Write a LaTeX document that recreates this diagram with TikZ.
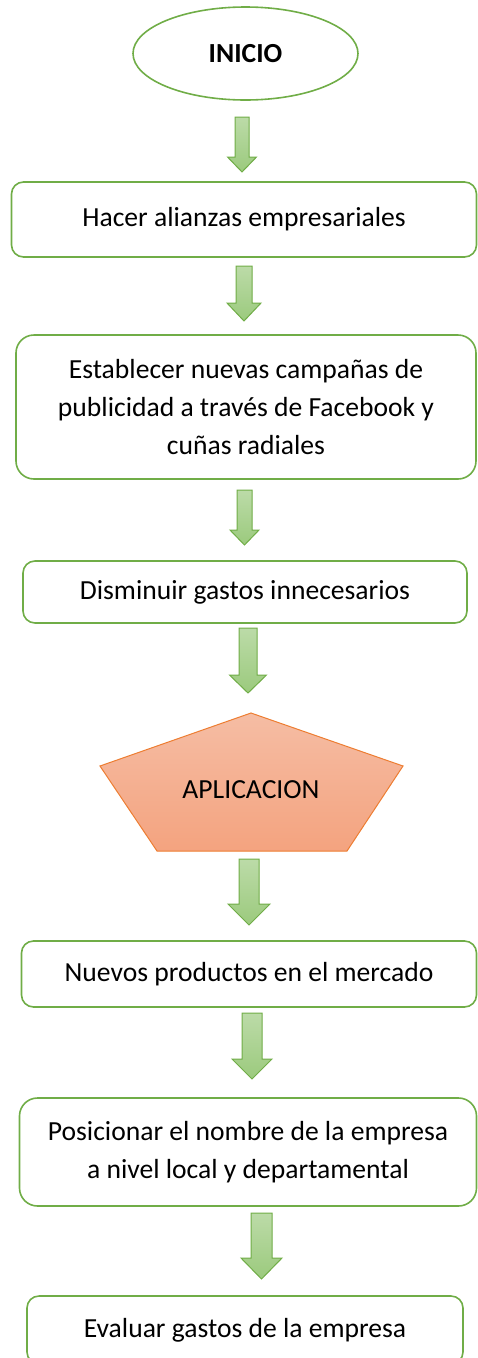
\documentclass[tikz,border=0pt]{standalone}
\usepackage{fontspec}
\setmainfont{Carlito}
\usepackage{tikz}
\usetikzlibrary{shapes.geometric}
\definecolor{verde}{RGB}{112,173,71}
\definecolor{verdeClaro}{RGB}{188,219,168}
\definecolor{verdeOscuro}{RGB}{155,202,125}
\definecolor{naranja}{RGB}{237,125,49}
\definecolor{salmonClaro}{RGB}{245,189,164}
\definecolor{salmonOscuro}{RGB}{244,163,127}
\newcommand{\textoTam}{\fontsize{27.6}{38}\selectfont}
% flecha de bloque: centro x, medio ancho cuerpo, medio ancho punta, arriba, inicio punta, punta
\newcommand{\flecha}[6]{%
  \path[draw=verde, line width=1pt, line join=miter, top color=verdeClaro, bottom color=verdeOscuro]
    (#1-#2,#4) -- (#1+#2,#4) -- (#1+#2,#5) -- (#1+#3,#5) -- (#1,#6)
    -- (#1-#3,#5) -- (#1-#2,#5) -- cycle;}
\tikzset{
  caja/.style={draw=verde, line width=1.6pt, rounded corners=12pt, align=center,
    inner sep=0pt, font=\textoTam},
  inicio/.style={draw=verde, line width=1.6pt, ellipse, inner sep=0pt,
    minimum width=225pt, minimum height=93pt, font=\textoTam\bfseries}
}
\begin{document}
\begin{tikzpicture}[x=1pt, y=-1pt]
	\useasboundingbox (0,0) rectangle (477,1358);
	% inicio
	\node[inicio] (ini) at (245.5,53.5) {INICIO};
	\flecha{242}{7}{14.5}{117}{157}{172}
	% pasos
	\node[caja, minimum width=465pt, minimum height=75pt] (alianzas) at (244,219.5)
		{Hacer alianzas empresariales};
	\flecha{244}{8}{17}{266}{303}{321}
	\node[caja, rounded corners=18pt, minimum width=460pt, minimum height=144pt] (campanas) at (246,407)
		{Establecer nuevas campañas de\\publicidad a través de Facebook y\\cuñas radiales};
	\flecha{244.5}{7.5}{14.5}{490}{530}{545}
	\node[caja, minimum width=444pt, minimum height=62pt] (gastos) at (245,592)
		{Disminuir gastos innecesarios};
	\flecha{248}{9}{18.5}{628}{675}{693}
	% aplicacion
	\path[draw=naranja, line width=1pt, top color=salmonClaro, bottom color=salmonOscuro]
		(251,713) -- (403,766) -- (347,851) -- (157,851) -- (100,766) -- cycle;
	\node[font=\textoTam] (aplic) at (251,790) {APLICACION};
	\flecha{249}{10}{21}{859}{904}{925}
	\node[caja, minimum width=455pt, minimum height=66pt] (productos) at (249,974)
		{Nuevos productos en el mercado};
	\flecha{252}{10}{20}{1013}{1059}{1079}
	\node[caja, rounded corners=18pt, minimum width=457pt, minimum height=108pt] (posicionar) at (248,1152)
		{Posicionar el nombre de la empresa\\a nivel local y departamental};
	\flecha{261.5}{10.5}{20.5}{1213}{1258}{1279}
	\node[caja, minimum width=436pt, minimum height=68pt] (evaluar) at (245,1330)
		{Evaluar gastos de la empresa};
\end{tikzpicture}
\end{document}
